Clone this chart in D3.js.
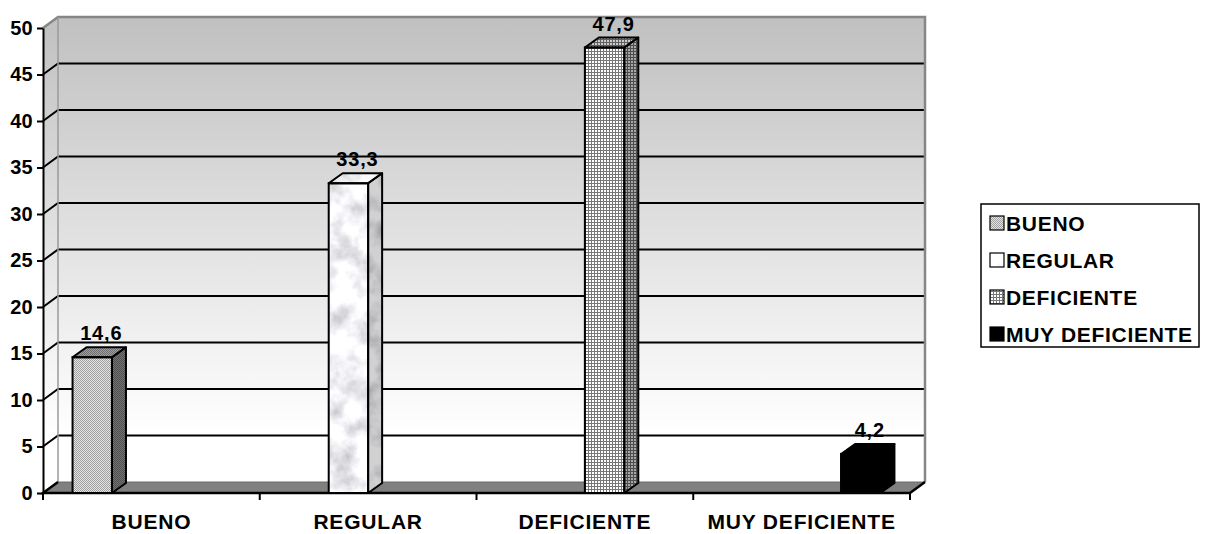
<!DOCTYPE html>
<html><head><meta charset="utf-8">
<script src="https://cdn.jsdelivr.net/npm/d3@7"></script>
<style>
body{margin:0;background:#fff}
svg{display:block}
text{font-family:Arial,"Liberation Sans",sans-serif;font-weight:bold;fill:#000}
</style>
</head><body>
<svg id="chart" width="1220" height="534"></svg>
<script>
// ---- data ----
const categories = ["BUENO", "REGULAR", "DEFICIENTE", "MUY DEFICIENTE"];
const values = [14.6, 33.3, 47.9, 4.2];
const valueLabels = ["14,6", "33,3", "47,9", "4,2"];
const yTicks = [0, 5, 10, 15, 20, 25, 30, 35, 40, 45, 50];
const yTickLabels = ["0", "5", "10", "15", "20", "25", "30", "35", "40", "45", "50"];

// ---- styles ----
const fills = ["url(#pBueno)", "url(#pReg)", "url(#pDef)", "#000"];
const sideShade = [0.5, 0.18, 0.35, 0];
const topShade = [0.3, 0.02, 0.2, 0];

const svg = d3.select("#chart");
const defs = svg.append("defs");

// back wall gradient
const grad = defs.append("linearGradient").attr("id", "wallGrad")
  .attr("gradientUnits", "userSpaceOnUse").attr("x1", 0).attr("x2", 0).attr("y1", 16).attr("y2", 482);
grad.append("stop").attr("offset", 0).attr("stop-color", "#c0c0c0");
grad.append("stop").attr("offset", 0.9).attr("stop-color", "#ffffff");
grad.append("stop").attr("offset", 1).attr("stop-color", "#ffffff");

// BUENO: fine dither
const pB = defs.append("pattern").attr("id", "pBueno").attr("patternUnits", "userSpaceOnUse").attr("width", 2).attr("height", 2);
pB.append("rect").attr("width", 2).attr("height", 2).attr("fill", "#e4e4e4");
pB.append("rect").attr("x", 0).attr("y", 0).attr("width", 1).attr("height", 1).attr("fill", "#a0a0a0");
pB.append("rect").attr("x", 1).attr("y", 1).attr("width", 1).attr("height", 1).attr("fill", "#a0a0a0");

// DEFICIENTE: grid
const pD = defs.append("pattern").attr("id", "pDef").attr("patternUnits", "userSpaceOnUse").attr("width", 3).attr("height", 3);
pD.append("rect").attr("width", 3).attr("height", 3).attr("fill", "#ffffff");
pD.append("rect").attr("x", 0).attr("y", 0).attr("width", 1).attr("height", 3).attr("fill", "#777");
pD.append("rect").attr("x", 0).attr("y", 0).attr("width", 3).attr("height", 1).attr("fill", "#777");

// REGULAR: marble
const f = defs.append("filter").attr("id", "marble").attr("x", 0).attr("y", 0).attr("width", 1).attr("height", 1)
  .attr("filterUnits", "objectBoundingBox");
f.append("feTurbulence").attr("type", "fractalNoise").attr("baseFrequency", 0.045).attr("numOctaves", 4).attr("seed", 7);
f.append("feColorMatrix").attr("type", "matrix")
  .attr("values", "-1.0 0 0 0 1.40  -1.0 0 0 0 1.40  -1.0 0 0 0 1.43  0 0 0 0 1");
const pR = defs.append("pattern").attr("id", "pReg").attr("patternUnits", "userSpaceOnUse").attr("width", 1220).attr("height", 534);
pR.append("rect").attr("width", 1220).attr("height", 534).attr("fill", "#fff").attr("filter", "url(#marble)");

// ---- scales ----
const x = d3.scaleBand().domain(categories).range([43, 910]).padding(0);
const xs = d3.scaleBand().domain(categories).range([0, x.bandwidth()]).paddingInner(0).paddingOuter(0.75);
const y = d3.scaleLinear().domain([0, 50]).range([493, 28]);

const DX = 15, DY = 11;      // wall depth
const BDX = 14, BDY = 10;    // bar depth
const xL = x.range()[0], xR = x.range()[1];
const pts = p => p.map(q => q.join(",")).join(" ");

// ---- walls ----
const wall = svg.append("g");
wall.append("polygon")
  .attr("points", pts([[xL, y(50)], [xL + DX, y(50) - DY], [xL + DX, y(0) - DY], [xL, y(0)]]))
  .attr("fill", "url(#wallGrad)");
wall.append("rect").attr("x", xL + DX).attr("y", y(50) - DY)
  .attr("width", xR - xL).attr("height", y(0) - y(50))
  .attr("fill", "url(#wallGrad)");

const gridTicks = yTicks.filter(t => t > 0 && t < 50);
wall.selectAll("polyline.grid").data(gridTicks).join("polyline")
  .attr("class", "grid")
  .attr("points", t => pts([[xL, y(t)], [xL + DX, y(t) - DY], [xR + DX, y(t) - DY]]))
  .attr("fill", "none").attr("stroke", "#000").attr("stroke-width", 2);

wall.append("polyline")
  .attr("points", pts([[xL, y(50)], [xL + DX, y(50) - DY], [xR + DX, y(50) - DY], [xR + DX, y(0) - DY]]))
  .attr("fill", "none").attr("stroke", "#868686").attr("stroke-width", 2.5);
wall.append("line").attr("x1", xL + DX).attr("x2", xL + DX).attr("y1", y(50) - DY).attr("y2", y(0) - DY)
  .attr("stroke", "#9a9a9a").attr("stroke-width", 1.5);

// floor
wall.append("polygon")
  .attr("points", pts([[xL, y(0)], [xL + DX, y(0) - DY], [xR + DX, y(0) - DY], [xR, y(0)]]))
  .attr("fill", "#808080").attr("stroke", "#6a6a6a").attr("stroke-width", 1);
wall.append("polyline")
  .attr("points", pts([[xL + DX, y(0) - DY], [xL, y(0)], [xR, y(0)], [xR + DX, y(0) - DY]]))
  .attr("fill", "none").attr("stroke", "#000").attr("stroke-width", 2.5);

// ---- bars ----
const bars = svg.append("g");
categories.forEach((c, i) => {
  const v = values[i];
  const bx = x(c) + xs(c), w = xs.bandwidth();
  const yt = y(v), yb = y(0);
  const g = bars.append("g");
  const side = [[bx + w, yb], [bx + w + BDX, yb - BDY], [bx + w + BDX, yt - BDY], [bx + w, yt]];
  const top = [[bx, yt], [bx + BDX, yt - BDY], [bx + w + BDX, yt - BDY], [bx + w, yt]];
  g.append("polygon").attr("points", pts(side)).attr("fill", fills[i]);
  g.append("polygon").attr("points", pts(side)).attr("fill", "#000").attr("fill-opacity", sideShade[i]);
  g.append("polygon").attr("points", pts(top)).attr("fill", fills[i]);
  g.append("polygon").attr("points", pts(top)).attr("fill", "#000").attr("fill-opacity", topShade[i]);
  g.append("rect").attr("x", bx).attr("y", yt).attr("width", w).attr("height", yb - yt).attr("fill", fills[i]);
  g.append("polygon").attr("points", pts(side)).attr("fill", "none").attr("stroke", "#000").attr("stroke-width", 2).attr("stroke-linejoin", "round");
  g.append("polygon").attr("points", pts(top)).attr("fill", "none").attr("stroke", "#000").attr("stroke-width", 2).attr("stroke-linejoin", "round");
  g.append("rect").attr("x", bx).attr("y", yt).attr("width", w).attr("height", yb - yt)
    .attr("fill", "none").attr("stroke", "#000").attr("stroke-width", 2);
  g.append("text").attr("x", bx + w / 2 + BDX / 2 + 2).attr("y", yt - BDY - 7)
    .attr("text-anchor", "middle").attr("font-size", 20).attr("letter-spacing", 0.8)
    .text(valueLabels[i]);
});

// ---- axes ----
const yAxis = d3.axisLeft(y).tickValues(yTicks).tickFormat((d, i) => yTickLabels[i])
  .tickSize(6).tickSizeOuter(0).tickPadding(4);
const ya = svg.append("g").attr("transform", `translate(${xL},0)`).call(yAxis);
ya.select(".domain").attr("stroke", "#000").attr("stroke-width", 2);
ya.selectAll(".tick line").attr("stroke", "#000").attr("stroke-width", 2);
ya.selectAll(".tick text").attr("font-size", 20).attr("letter-spacing", 0.3).attr("fill", "#000");

const xAxis = d3.axisBottom(x).tickSize(0).tickPadding(21);
const xa = svg.append("g").attr("transform", `translate(0,${y(0)})`).call(xAxis);
xa.select(".domain").remove();
xa.selectAll(".tick text").attr("font-size", 21).attr("letter-spacing", 0.8).attr("fill", "#000");
const bounds = categories.map(c => x(c)).concat([xR]);
svg.append("g").selectAll("line").data(bounds).join("line")
  .attr("x1", d => d).attr("x2", d => d).attr("y1", y(0)).attr("y2", y(0) + 7)
  .attr("stroke", "#000").attr("stroke-width", 2);

// ---- legend ----
const lg = svg.append("g");
lg.append("rect").attr("x", 981).attr("y", 204).attr("width", 218).attr("height", 143)
  .attr("fill", "#fff").attr("stroke", "#000").attr("stroke-width", 1.5);
categories.forEach((c, i) => {
  lg.append("rect").attr("x", 990).attr("y", 216 + 37 * i).attr("width", 14).attr("height", 14)
    .attr("fill", fills[i]).attr("stroke", "#000").attr("stroke-width", 1.2);
  lg.append("text").attr("x", 1006).attr("y", 231 + 37 * i)
    .attr("font-size", 21).attr("letter-spacing", 0.7).text(c);
});
</script>
</body></html>
